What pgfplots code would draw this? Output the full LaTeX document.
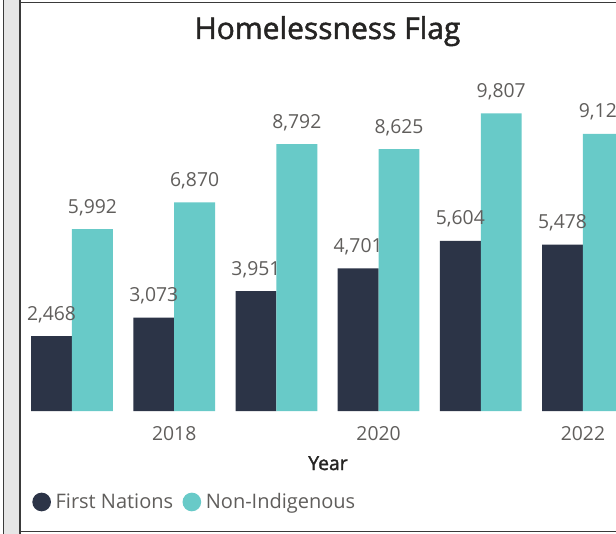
\documentclass[border=0pt]{standalone}
\usepackage{fontspec}
\setmainfont{Open Sans}
\newfontfamily\semib{Open Sans}[FakeBold=1.6]
\usepackage{pgfplots}
\pgfplotsset{compat=1.18}
\definecolor{fnblue}{HTML}{2C3447}
\definecolor{nonteal}{HTML}{68CAC8}
\definecolor{lblgray}{HTML}{605E5C}
\definecolor{titlec}{HTML}{252423}
\definecolor{stripgray}{HTML}{E6E6E6}
\definecolor{framec}{HTML}{3A3A3A}

\begin{document}
\begin{tikzpicture}
% canvas in screen pixels (1px = 0.75pt), y downwards
\begin{scope}[x=0.75pt,y=-0.75pt]
\path[use as bounding box] (0,0) rectangle (616,534);
\clip (0,0) rectangle (616,534);
\fill[white] (0,0) rectangle (616,534);
\fill[stripgray] (3,0) rectangle (20,534);
\draw[framec, line width=0.9pt] (3.3,0) -- (3.3,534);
\draw[framec, line width=1.1pt] (20,2.5) -- (620,2.5);
\draw[framec, line width=1.1pt] (20,0) -- (20,534);
\draw[framec, line width=1.1pt] (20,531.5) -- (620,531.5);
\node[anchor=base, font=\semib\fontsize{22.5}{25}\selectfont, text=titlec] at (327.5,39) {Homelessness Flag};
\end{scope}
\clip (0pt,0pt) rectangle (462pt,-400.5pt);
\begin{axis}[at={(15.675pt,-308.25pt)}, anchor=south west,
  scale only axis, width=446.3pt, height=227.7pt,
  xmin=2016.5, xmax=2022.323, ymin=0, ymax=10000,
  ybar=0pt, bar width=0.4,
  axis line style={draw=none}, major tick length=0pt,
  ytick=\empty, xtick={2018,2020,2022},
  xticklabel style={font=\fontsize{14.5}{16}\selectfont, text=lblgray, anchor=base, yshift=-21.75pt,
    /pgf/number format/1000 sep={}, /pgf/number format/assume math mode=true},
  xlabel={Year},
  xlabel style={at={(axis description cs:0.516,0)}, anchor=base, yshift=-44.25pt, font=\semib\fontsize{14.5}{16}\selectfont, text=titlec},
  nodes near coords={\pgfmathprintnumber[fixed,precision=0,1000 sep={,},assume math mode=true]{\pgfplotspointmeta}},
  nodes near coords style={font=\fontsize{14.5}{16}\selectfont, text=lblgray, anchor=base, yshift=12pt},
  legend columns=2,
  legend style={at={(0.0187,-0.2997)}, anchor=west, draw=none, fill=none, inner sep=0pt,
    font=\fontsize{15}{17}\selectfont, text=lblgray,
    /tikz/every even column/.append style={column sep=5pt}},
  legend image code/.code={\fill[#1] (6.5pt,0pt) circle (7pt); \path (15pt,0pt);},
]
\addplot[fill=fnblue, draw=none] coordinates {(2017,2468)(2018,3073)(2019,3951)(2020,4701)(2021,5604)(2022,5478)};
\addplot[fill=nonteal, draw=none] coordinates {(2017,5992)(2018,6870)(2019,8792)(2020,8625)(2021,9807)(2022,9127)};
\legend{First Nations,Non-Indigenous}
\end{axis}
\end{tikzpicture}
\end{document}
